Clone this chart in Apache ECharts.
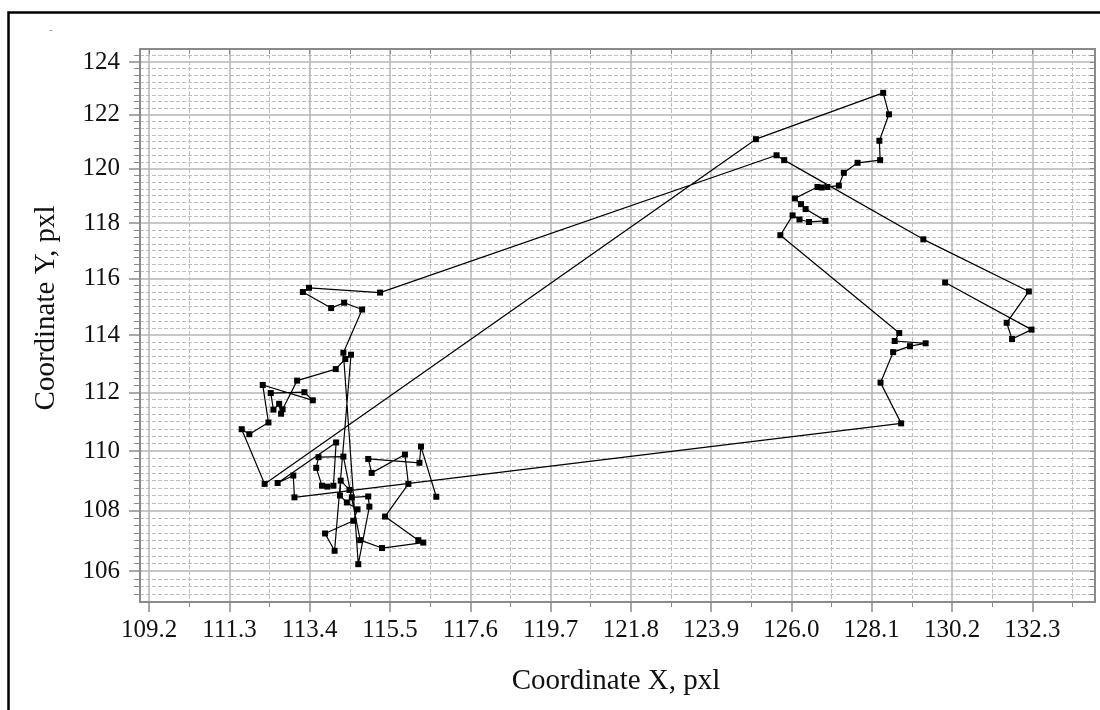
<!DOCTYPE html>
<html><head><meta charset="utf-8">
<script src="https://cdn.jsdelivr.net/npm/echarts@6/dist/echarts.min.js"></script>
<style>html,body{margin:0;padding:0;background:#fff}#c{width:1100px;height:710px}</style>
</head><body><div id="c"></div>
<script>
// Trajectory (in drawing order)
const xValues = [130.02,132.28,131.77,131.63,132.21,129.45,125.81,125.61,115.24,113.38,113.22,113.96,114.30,114.77,114.28,
  114.67,114.96,114.93,114.50,114.44,114.21,114.19,114.37,114.65,114.54,113.80,114.05,
  114.48,114.33,114.08,113.07,112.69,112.65,112.60,112.45,112.38,113.26,113.48,112.17,112.32,111.82,111.62,112.22,
  125.07,128.40,128.55,128.30,128.32,127.73,127.37,127.24,126.94,126.79,126.68,126.09,126.25,126.37,126.89,126.46,126.21,126.03,125.71,
  128.82,128.70,129.51,129.10,128.66,128.33,128.87,
  113.00,112.97,112.56,114.09,114.02,113.86,113.72,113.57,113.63,114.28,114.72,115.29,116.37,116.24,115.37,115.98,115.89,115.02,114.93,116.27,116.31,116.71];
const yValues = [115.86,114.19,113.86,114.43,115.54,117.41,120.31,120.49,115.50,115.67,115.52,114.95,115.14,114.90,113.38,
  106.23,108.13,108.47,108.44,108.69,109.00,108.50,108.27,108.04,107.66,107.24,106.67,
  113.31,113.16,112.81,112.41,111.42,111.27,111.61,111.41,111.98,112.01,111.73,112.26,110.97,110.57,110.74,108.89,
  121.09,122.83,122.02,121.03,120.31,120.21,119.84,119.37,119.32,119.30,119.32,118.90,118.69,118.51,118.08,118.04,118.13,118.28,117.56,
  114.07,113.79,113.71,113.61,113.40,112.34,110.94,
  108.44,109.17,108.92,110.29,108.83,108.80,108.83,109.43,109.79,109.81,107.02,106.76,106.94,107.02,107.80,108.89,109.88,109.26,109.73,109.60,110.15,108.46];
const xTickLabels = [109.2,111.3,113.4,115.5,117.6,119.7,121.8,123.9,126.0,128.1,130.2,132.3];
const yTickLabels = [106,108,110,112,114,116,118,120,122,124];
const xTitle = 'Coordinate X, pxl';
const yTitle = 'Coordinate Y, pxl';

const X_MIN = 108.96, X_MAX = 133.94, Y_MIN = 105, Y_MAX = 124.5;

// minor grid positions (half of x interval, quarter units on y)
const xMinor = xTickLabels.map(v => +(v + 1.05).toFixed(2)).filter(v => v < X_MAX);
const yMinor = [];
for (let i = 1; i < 78; i++) {
  const v = 105 + i * 0.25;
  if (!(Number.isInteger(v) && v % 2 === 0)) yMinor.push(v);
}
const xAll = xTickLabels.concat(xMinor);
const yAll = yTickLabels.concat(yMinor);

const data = xValues.map((x, i) => [x, yValues[i]]);

const FONT = '"Liberation Serif", "Times New Roman", serif';
const AX = '#8a8a8a';
const chart = echarts.init(document.getElementById('c'), null, {renderer: 'canvas'});
chart.setOption({
  animation: false,
  backgroundColor: '#fff',
  grid: {left: 140, right: 5, top: 49, bottom: 108, containLabel: false},
  xAxis: [
    {type: 'value', position: 'bottom', min: X_MIN, max: X_MAX,
     axisLine: {show: true, lineStyle: {color: AX, width: 2}},
     axisTick: {show: true, customValues: xTickLabels, length: 10, lineStyle: {color: AX, width: 1.5}},
     axisLabel: {show: true, customValues: xTickLabels, margin: 16, color: '#111', fontFamily: FONT, fontSize: 25,
                 formatter: v => (+v).toFixed(1)},
     splitLine: {show: true, lineStyle: {color: '#b4b4b4', width: 1.5}}},
    {type: 'value', position: 'bottom', min: X_MIN, max: X_MAX,
     axisLine: {show: false},
     axisTick: {show: true, customValues: xMinor, length: 5, lineStyle: {color: AX, width: 1}},
     axisLabel: {show: false},
     splitLine: {show: true, lineStyle: {color: '#bdbdbd', width: 1, type: [4, 2]}}},
    {type: 'value', position: 'top', min: X_MIN, max: X_MAX,
     axisLine: {show: true, lineStyle: {color: AX, width: 2}},
     axisTick: {show: true, inside: true, customValues: xAll, length: 5, lineStyle: {color: AX, width: 1}},
     axisLabel: {show: false}, splitLine: {show: false}}
  ],
  yAxis: [
    {type: 'log', position: 'left', min: Y_MIN, max: Y_MAX,
     axisLine: {show: true, lineStyle: {color: AX, width: 2}},
     axisTick: {show: true, customValues: yTickLabels, length: 11, lineStyle: {color: AX, width: 1.5}},
     axisLabel: {show: true, customValues: yTickLabels, margin: 20, color: '#111', fontFamily: FONT, fontSize: 25,
                 formatter: v => String(Math.round(v))},
     splitLine: {show: true, lineStyle: {color: '#b4b4b4', width: 1.5}}},
    {type: 'log', position: 'left', min: Y_MIN, max: Y_MAX,
     axisLine: {show: false},
     axisTick: {show: true, customValues: yMinor, length: 6, lineStyle: {color: AX, width: 1}},
     axisLabel: {show: false},
     splitLine: {show: true, lineStyle: {color: '#bdbdbd', width: 1, type: [4, 2]}}},
    {type: 'log', position: 'right', min: Y_MIN, max: Y_MAX,
     axisLine: {show: true, lineStyle: {color: AX, width: 2}},
     axisTick: {show: true, inside: true, customValues: yAll, length: 5, lineStyle: {color: AX, width: 1}},
     axisLabel: {show: false}, splitLine: {show: false}}
  ],
  graphic: [
    {type: 'rect', silent: true, z: 100, shape: {x: 8.5, y: 12.5, width: 1120, height: 730},
     style: {fill: null, stroke: '#000', lineWidth: 2.5}},
    {type: 'text', x: 51, y: 30, z: 100, style: {text: '-', font: '10px ' + FONT, fill: '#777', align: 'center', verticalAlign: 'middle'}},
    {type: 'text', x: 616, y: 681, z: 100, style: {text: xTitle, font: '29px ' + FONT, fill: '#111', align: 'center', verticalAlign: 'middle'}},
    {type: 'text', x: 46, y: 308, rotation: Math.PI / 2, z: 100,
     style: {text: yTitle, font: '29px ' + FONT, fill: '#111', align: 'center', verticalAlign: 'middle'}}
  ],
  series: [{
    type: 'line', xAxisIndex: 0, yAxisIndex: 0, data: data,
    symbol: 'rect', symbolSize: 6, showSymbol: true,
    lineStyle: {color: '#000', width: 1.2},
    itemStyle: {color: '#000'},
    z: 10
  }]
});
</script>
</body></html>
